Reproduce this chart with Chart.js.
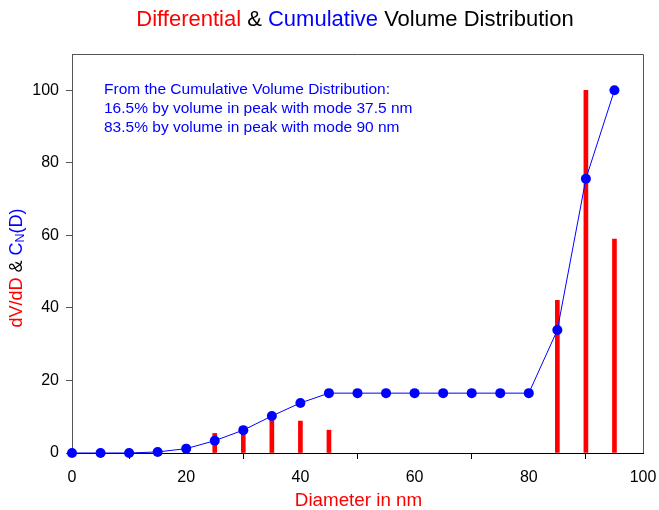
<!DOCTYPE html>
<html><head><meta charset="utf-8">
<script src="https://cdn.jsdelivr.net/npm/chart.js@4/dist/chart.umd.min.js"></script>
<style>html,body{margin:0;padding:0;background:#fff}#wrap{width:659px;height:510px}</style>
</head><body><div id="wrap"><canvas id="c" width="659" height="510"></canvas></div>
<script>
const diameters = [0,5,10,15,20,25,30,35,40,45,50,55,60,65,70,75,80,85,90,95];
const cumulative = [0,0,0,0.3,1.2,3.4,6.3,10.2,13.8,16.5,16.5,16.5,16.5,16.5,16.5,16.5,16.5,33.9,75.6,100];
const diffDiameters = [25,30,35,40,45,85,90,95];
const differential = [5.4,7.0,9.4,8.8,6.3,42.1,100,59.0];
const xTicks = [0,20,40,60,80,100];
const yTicks = [0,20,40,60,80,100];
const titleParts = [["Differential","#ff0000"],[" & ","#000000"],["Cumulative","#0000ff"],[" Volume Distribution","#000000"]];
const noteLines = ["From the Cumulative Volume Distribution:","16.5% by volume in peak with mode 37.5 nm","83.5% by volume in peak with mode 90 nm"];
const xTitle = "Diameter in nm";

const FONT = "'Liberation Sans', Arial, sans-serif";

const decor = {
  id: 'decor',
  afterDraw(chart) {
    const ctx = chart.ctx, a = chart.chartArea;
    ctx.save();
    ctx.strokeStyle = '#555555'; ctx.lineWidth = 1;
    ctx.beginPath();
    ctx.moveTo(a.left, a.top + 0.5); ctx.lineTo(a.right + 0.5, a.top + 0.5); ctx.lineTo(a.right + 0.5, a.bottom);
    ctx.stroke();
    ctx.font = '22px ' + FONT; ctx.textBaseline = 'middle';
    let total = 0; titleParts.forEach(p => total += ctx.measureText(p[0]).width);
    let x = 355 - total / 2;
    titleParts.forEach(p => { ctx.fillStyle = p[1]; ctx.textAlign = 'left'; ctx.fillText(p[0], x, 20); x += ctx.measureText(p[0]).width; });
    ctx.font = '18.8px ' + FONT; ctx.fillStyle = '#ff0000'; ctx.textAlign = 'center';
    ctx.fillText(xTitle, 358.5, 501);
    ctx.translate(17, 268); ctx.rotate(-Math.PI / 2);
    const big = '18px ' + FONT, small = '12.5px ' + FONT;
    const segs = [["dV/dD","#ff0000",big,0],[" & ","#000000",big,0],["C","#0000ff",big,0],["N","#0000ff",small,4],["(D)","#0000ff",big,0]];
    let w = 0; segs.forEach(s => { ctx.font = s[2]; w += ctx.measureText(s[0]).width; });
    let sx = -w / 2; ctx.textAlign = 'left';
    segs.forEach(s => { ctx.font = s[2]; ctx.fillStyle = s[1]; ctx.fillText(s[0], sx, s[3]); sx += ctx.measureText(s[0]).width; });
    ctx.setTransform(1,0,0,1,0,0);
    ctx.font = '15.5px ' + FONT; ctx.fillStyle = '#0000ff'; ctx.textAlign = 'left'; ctx.textBaseline = 'middle';
    noteLines.forEach((t, i) => ctx.fillText(t, 104, 90 + i * 18.7));
    ctx.restore();
  }
};

new Chart(document.getElementById('c'), {
  data: {
    datasets: [
      {
        type: 'line', label: 'Cumulative',
        data: diameters.map((d, i) => ({x: d, y: cumulative[i]})),
        borderColor: '#0000ff', borderWidth: 1, pointRadius: 5, pointBackgroundColor: '#0000ff',
        pointBorderWidth: 0, pointBorderColor: '#0000ff', clip: false, order: 0, tension: 0
      },
      {
        type: 'bar', label: 'Differential',
        data: diffDiameters.map((d, i) => ({x: d, y: differential[i]})),
        backgroundColor: '#ff0000', borderWidth: 0, barThickness: 4, order: 1
      }
    ]
  },
  options: {
    responsive: false, animation: false, devicePixelRatio: 1,
    layout: { padding: { top: 54, right: 16, left: 0, bottom: 0 } },
    plugins: { legend: { display: false }, tooltip: { enabled: false }, title: { display: false } },
    scales: {
      x: {
        type: 'linear', min: 0, max: 100, offset: false,
        afterBuildTicks: s => { s.ticks = xTicks.map(v => ({value: v})); },
        afterFit: s => { s.height = 57; s.paddingLeft = 0; s.paddingRight = 0; },
        grid: { drawOnChartArea: false, drawTicks: true, tickLength: 6, color: '#000000' },
        border: { display: true, color: '#000000', width: 1 },
        ticks: { color: '#000000', font: { family: FONT, size: 16 }, padding: 9, maxRotation: 0 }
      },
      y: {
        type: 'linear', min: 0, max: 110,
        afterBuildTicks: s => { s.ticks = yTicks.map(v => ({value: v})); },
        afterFit: s => { s.width = 72; s.paddingTop = 0; s.paddingBottom = 0; },
        grid: { drawOnChartArea: false, drawTicks: true, tickLength: 6, color: '#555555' },
        border: { display: true, color: '#555555', width: 1 },
        ticks: { color: '#000000', font: { family: FONT, size: 16 }, padding: 7 }
      }
    }
  },
  plugins: [decor]
});
</script></body></html>
